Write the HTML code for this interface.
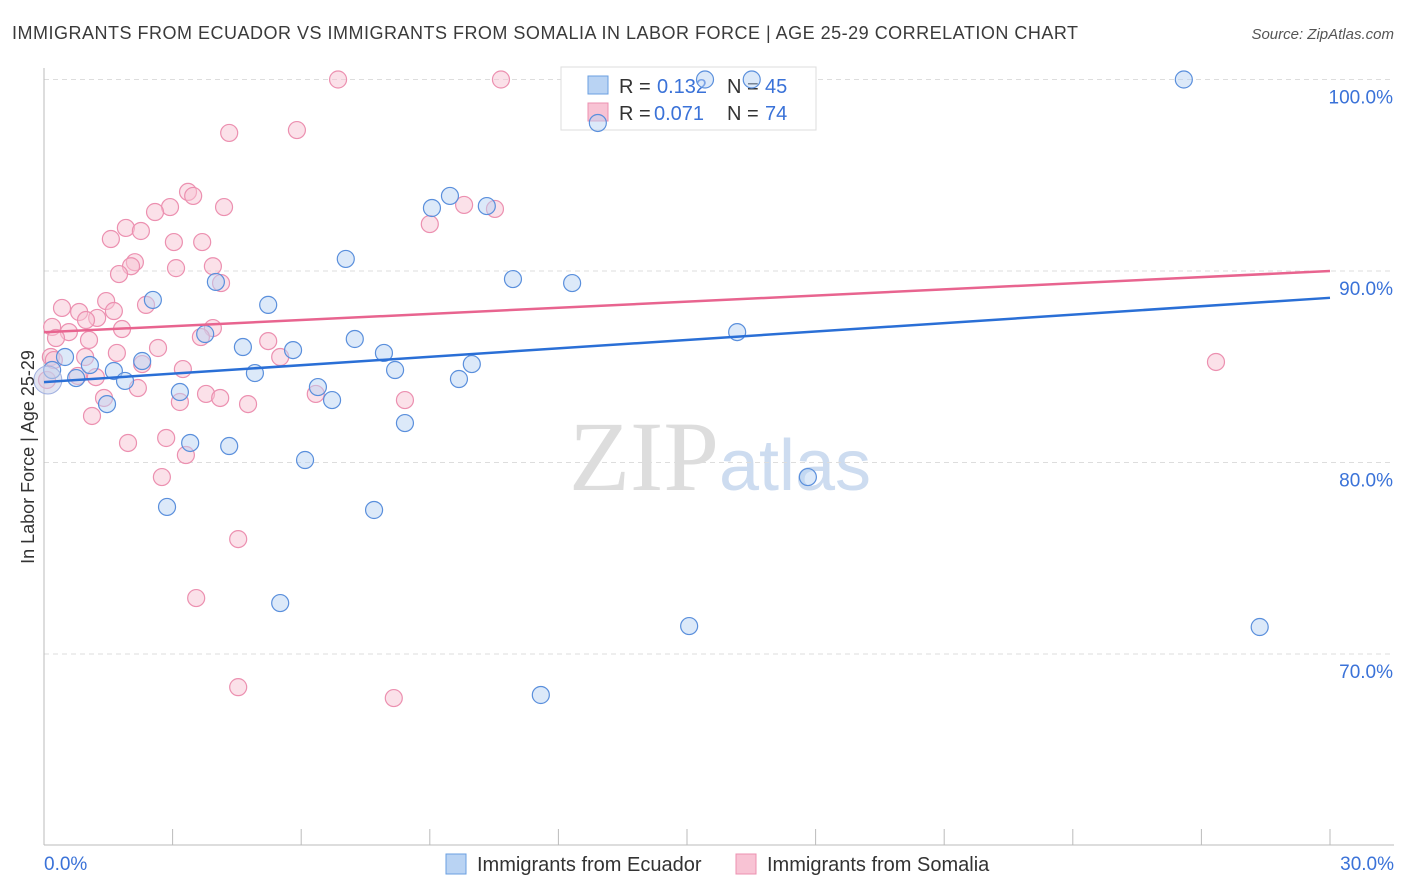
<!DOCTYPE html>
<html><head><meta charset="utf-8"><style>
body{margin:0;background:#fff;font-family:"Liberation Sans",sans-serif}
svg{display:block}
</style></head><body>
<svg id="chart" width="1406" height="892">
<text x="12" y="39" font-size="18" fill="#3a3a3a" textLength="1066" lengthAdjust="spacing">IMMIGRANTS FROM ECUADOR VS IMMIGRANTS FROM SOMALIA IN LABOR FORCE | AGE 25-29 CORRELATION CHART</text>
<text x="1394" y="39" font-size="15" fill="#555" text-anchor="end" font-style="italic">Source: ZipAtlas.com</text>
<text x="720" y="490" font-size="100" fill="#ddd" text-anchor="middle" font-family="Liberation Serif">ZIP<tspan fill="#cddcf0" font-family="Liberation Sans" font-size="72">atlas</tspan></text>
<g id="grid"></g>
<g>
<rect x="561" y="67" width="255" height="63" fill="#fff" stroke="#ddd"/>
<rect x="588" y="76" width="20" height="18" fill="#b9d3f3" stroke="#6a9fe0"/>
<rect x="588" y="103" width="20" height="18" fill="#f8c3d4" stroke="#ec90b0"/>
<text y="93" font-size="20" fill="#333"><tspan x="619">R =</tspan><tspan x="657" fill="#3a72d8">0.132</tspan><tspan x="727">N =</tspan><tspan x="765" fill="#3a72d8">45</tspan></text>
<text y="120" font-size="20" fill="#333"><tspan x="619">R =</tspan><tspan x="654" fill="#3a72d8">0.071</tspan><tspan x="727">N =</tspan><tspan x="765" fill="#3a72d8">74</tspan></text>
</g>
<g id="marks"></g>
<text transform="translate(34,457) rotate(-90)" font-size="18" fill="#333" text-anchor="middle">In Labor Force | Age 25-29</text>
<g>
<rect x="446" y="854" width="20" height="20" fill="#b9d3f3" stroke="#6a9fe0"/>
<text x="477" y="871" font-size="20" fill="#333">Immigrants from Ecuador</text>
<rect x="736" y="854" width="20" height="20" fill="#f8c3d4" stroke="#ec90b0"/>
<text x="767" y="871" font-size="20" fill="#333">Immigrants from Somalia</text>
</g>
</svg>
<script>
const yTicks=[100,90,80,70];
const yTickLabels=["100.0%","90.0%","80.0%","70.0%"];
const xTickLabels=["0.0%","30.0%"];
const ecuadorX=[12.92,26.59,15.42,16.51,9.47,9.05,10.33,7.04,10.94,12.32,4.01,2.54,5.23,16.17,7.25,4.64,5.81,7.93,3.76,2.29,0.49,1.07,0.19,1.63,4.92,8.19,9.98,9.68,0.75,1.89,3.17,6.39,6.72,1.47,8.42,3.41,4.32,6.09,17.82,2.87,7.70,5.51,15.05,28.36,11.59];
const ecuadorY=[97.73,100,100,100,93.92,93.29,93.39,90.63,89.58,89.37,89.43,88.49,88.23,86.81,86.45,86.03,85.87,85.72,86.71,85.30,85.51,85.09,84.83,84.78,84.67,84.83,85.14,84.36,84.41,84.26,83.68,83.94,83.26,83.05,82.06,81.02,80.86,80.13,79.24,77.68,77.52,72.66,71.46,71.41,67.86];
const somaliaX=[6.86,10.66,4.32,5.90,3.36,3.48,2.94,4.20,2.59,9.80,10.52,9.00,1.91,2.26,1.56,3.03,3.69,2.12,2.03,3.08,3.94,1.75,4.13,0.42,1.45,1.63,2.38,0.82,1.24,0.98,0.19,0.58,1.82,0.28,1.05,3.94,3.66,2.66,1.70,5.23,5.51,0.16,0.96,2.29,3.24,0.79,1.21,0.07,2.19,3.78,4.11,6.34,3.17,1.40,4.76,8.42,1.12,1.96,2.85,3.31,2.75,4.53,3.55,4.53,8.16,27.34,0.23];
const somaliaY=[100,100,97.21,97.36,94.13,93.92,93.34,93.34,93.08,93.45,93.24,92.45,92.25,92.09,91.67,91.51,91.51,90.46,90.25,90.15,90.25,89.84,89.37,88.07,88.43,87.91,88.23,87.86,87.55,87.44,87.08,86.81,86.97,86.50,86.40,87.02,86.55,85.98,85.72,86.34,85.51,85.51,85.51,85.14,84.88,84.52,84.46,84.31,83.89,83.58,83.37,83.58,83.16,83.37,83.05,83.26,82.43,81.02,81.28,80.39,79.24,76.00,72.92,68.27,67.70,85.25,85.35];
const ecuadorTrend=[84.2,88.6];
const somaliaTrend=[86.8,90.0];
const xMin=0,xMax=30,yMin=60,yMax=100;
const X=v=>44+(v-xMin)/(xMax-xMin)*1286;
const Y=v=>79.5+(yMax-v)/(yMax-yMin)*766;
const NS="http://www.w3.org/2000/svg";
function mk(t,a,p){const e=document.createElementNS(NS,t);for(const k in a)e.setAttribute(k,a[k]);p.appendChild(e);return e;}
const grid=document.getElementById('grid'),marks=document.getElementById('marks');
yTicks.forEach((v,i)=>{
 const l=mk('line',{x1:44,x2:1394,y1:Y(v),y2:Y(v),stroke:'#ddd','stroke-dasharray':'5,4'},grid);
 
 
 const t=mk('text',{x:1393,y:Y(v)+24,'font-size':19,fill:'#3a72d8','text-anchor':'end'},grid);
 t.textContent=yTickLabels[i];
 
 
});
const ax=mk('line',{x1:44,x2:44,y1:68,y2:845,stroke:'#bbb'},grid);


const bx=mk('line',{x1:44,x2:1394,y1:845,y2:845,stroke:'#bbb'},grid);


for(let i=0;i<=10;i++){const v=xMin+i*3;const t=mk('line',{x1:X(v),x2:X(v),y1:829,y2:845,stroke:'#bbb'},grid);
 
 }
[[0,'start',44],[30,'end',1394]].forEach((d,i)=>{const t=mk('text',{x:d[2],y:870,'font-size':19,fill:'#3a72d8','text-anchor':d[1]},grid);t.textContent=xTickLabels[i];
 
 });
function pts(xs,ys,fill,stroke,name){xs.forEach((x,i)=>{const c=mk('circle',{cx:X(x),cy:Y(ys[i]),r:8.5,fill:fill,'fill-opacity':0.5,stroke:stroke,'stroke-width':1.2},marks);
 
 });}
pts(somaliaX,somaliaY,'#f8c3d4','#ec90b0','somalia-point');
pts(ecuadorX,ecuadorY,'#b9d3f3','#5a8fdc','ecuador-point');
const big=mk('circle',{cx:X(0.09),cy:Y(84.31),r:14,fill:'#c9cde8','fill-opacity':0.55,stroke:'#a0b0e0'},marks);


const l1=mk('line',{x1:X(0),x2:X(30),y1:Y(somaliaTrend[0]),y2:Y(somaliaTrend[1]),stroke:'#e8648f','stroke-width':2.5},marks);


const l2=mk('line',{x1:X(0),x2:X(30),y1:Y(ecuadorTrend[0]),y2:Y(ecuadorTrend[1]),stroke:'#2a6fd6','stroke-width':2.5},marks);


</script>
</body></html>
